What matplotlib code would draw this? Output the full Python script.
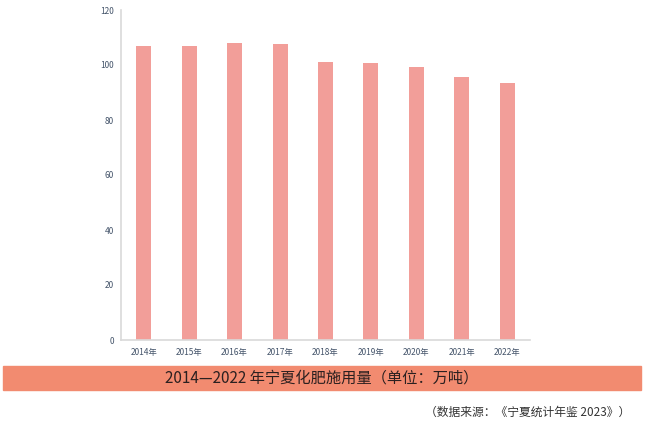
import matplotlib
matplotlib.use("Agg")
import matplotlib.pyplot as plt
from matplotlib.patches import Rectangle

plt.rcParams['font.family'] = ['Noto Sans CJK SC', 'DejaVu Sans']

# 数据
years = ["2014年", "2015年", "2016年", "2017年", "2018年",
         "2019年", "2020年", "2021年", "2022年"]
usage = [106.9, 106.9, 108.0, 107.6, 101.1, 100.7, 99.3, 95.6, 93.5]
yticks = [0, 20, 40, 60, 80, 100, 120]

W, H = 652, 422
fig = plt.figure(figsize=(W / 100, H / 100), dpi=100)
ax = fig.add_axes([121 / W, 1 - 340 / H, 409 / W, 330 / H])

ax.bar(range(len(years)), usage, width=0.33, color="#f29e99")
ax.set_xlim(-0.5, len(years) - 0.5)
ax.set_ylim(0, 120)
ax.set_yticks(yticks)
ax.set_xticks(range(len(years)))
ax.set_xticklabels(years)
ax.tick_params(axis="both", length=0, labelsize=6, colors="#44546a")
ax.tick_params(axis="y", pad=5)
ax.tick_params(axis="x", pad=6)
for s in ["top", "right"]:
    ax.spines[s].set_visible(False)
for s in ["left", "bottom"]:
    ax.spines[s].set_color("#d9d9d9")
    ax.spines[s].set_linewidth(1.2)

# 标题色带
fig.patches.append(Rectangle((3 / W, 1 - 390 / H), 638 / W, 24 / H,
                             transform=fig.transFigure, color="#f28b70",
                             zorder=0))
fig.text(322 / W, 1 - 378 / H, "2014—2022 年宁夏化肥施用量（单位：万吨）",
         ha="center", va="center", fontsize=11, color="#2b2020")

fig.text(528 / W, 1 - 412 / H, "（数据来源：《宁夏统计年鉴 2023》）",
         ha="center", va="center", fontsize=8.5, color="#333333")

fig.savefig("out.png", dpi=100)
